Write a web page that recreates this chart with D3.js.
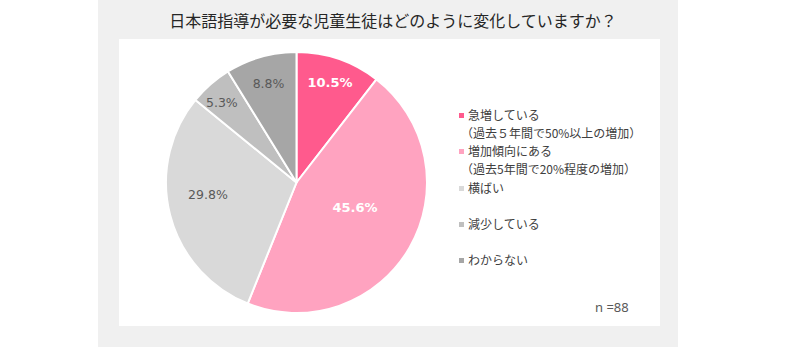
<!DOCTYPE html>
<html>
<head>
<meta charset="utf-8">
<script src="https://cdn.jsdelivr.net/npm/d3@7"></script>
<style>
  html, body { margin: 0; padding: 0; background: #ffffff; }
  svg { display: block; }
</style>
</head>
<body>
<svg id="chart" width="800" height="347"></svg>
<script>
// Survey categories, shares (%) and colours
const categories = ["急増している", "増加傾向にある", "横ばい", "減少している", "わからない"];
const legendLines = [
  ["急増している", "（過去５年間で50%以上の増加）"],
  ["増加傾向にある", "（過去5年間で20%程度の増加）"],
  ["横ばい"],
  ["減少している"],
  ["わからない"]
];
const values = [10.5, 45.6, 29.8, 5.3, 8.8];
const colors = ["#ff5a8d", "#ffa3c0", "#d9d9d9", "#bfbfbf", "#a6a6a6"];
const labelColors = ["#ffffff", "#ffffff", "#595959", "#595959", "#595959"];
const labelBold = [true, true, false, false, false];
const titleText = "日本語指導が必要な児童生徒はどのように変化していますか？";
const sampleText = "n =88";

const svg = d3.select("#chart");
const jp = "'Noto Sans CJK JP', 'Noto Sans', sans-serif";
const num = "'DejaVu Sans', Verdana, sans-serif";

// Outer grey panel and inner white plot area
svg.append("rect").attr("x", 98).attr("y", 0).attr("width", 580).attr("height", 347).attr("fill", "#f0f0f0");
svg.append("rect").attr("x", 119).attr("y", 39).attr("width", 541).attr("height", 287).attr("fill", "#ffffff");

svg.append("text")
  .attr("x", 393).attr("y", 27)
  .attr("text-anchor", "middle")
  .attr("font-family", jp).attr("font-size", 16)
  .attr("fill", "#262626")
  .text(titleText);

// Pie, clockwise from 12 o'clock
const cx = 296.5, cy = 182.5, r = 130.5;
const pie = d3.pie().value(d => d).sort(null);
const arcs = pie(values);
const arc = d3.arc().innerRadius(0).outerRadius(r);
const g = svg.append("g").attr("transform", `translate(${cx},${cy})`);

g.selectAll("path").data(arcs).join("path")
  .attr("d", arc)
  .attr("fill", (d, i) => colors[i])
  .attr("stroke", "#ffffff")
  .attr("stroke-width", 2)
  .attr("stroke-linejoin", "round");

// Percentage labels: position within each slice (fraction of its sweep, fraction of radius)
const labelSweep = [0.49, 0.456, 0.56, 0.41, 0.5];
const labelRadius = [0.81, 0.486, 0.685, 0.84, 0.785];
g.selectAll("text.pct").data(arcs).join("text")
  .attr("class", "pct")
  .attr("transform", (d, i) => {
    const a = d.startAngle + (d.endAngle - d.startAngle) * labelSweep[i];
    const rr = r * labelRadius[i];
    return `translate(${Math.sin(a) * rr},${-Math.cos(a) * rr})`;
  })
  .attr("text-anchor", "middle")
  .attr("dy", "0.36em")
  .attr("font-family", num)
  .attr("font-size", (d, i) => labelBold[i] ? 13 : 12.5)
  .attr("font-weight", (d, i) => labelBold[i] ? "bold" : "normal")
  .attr("fill", (d, i) => labelColors[i])
  .text(d => d.value.toFixed(1) + "%");

// Legend
const legendY = [116, 152, 189, 225, 261];
const lg = svg.append("g");
categories.forEach((c, i) => {
  lg.append("rect")
    .attr("x", 459).attr("y", legendY[i] - 3)
    .attr("width", 5).attr("height", 5)
    .attr("fill", colors[i]);
  legendLines[i].forEach((line, j) => {
    lg.append("text")
      .attr("x", j === 0 ? 468 : 461)
      .attr("y", legendY[i] + j * 18)
      .attr("dy", "0.35em")
      .attr("font-family", jp).attr("font-size", 12)
      .attr("fill", "#404040")
      .text(line);
  });
});

svg.append("text")
  .attr("x", 595).attr("y", 312)
  .attr("font-family", "'Noto Sans', sans-serif").attr("font-size", 13)
  .attr("fill", "#595959")
  .text(sampleText);
</script>
</body>
</html>
